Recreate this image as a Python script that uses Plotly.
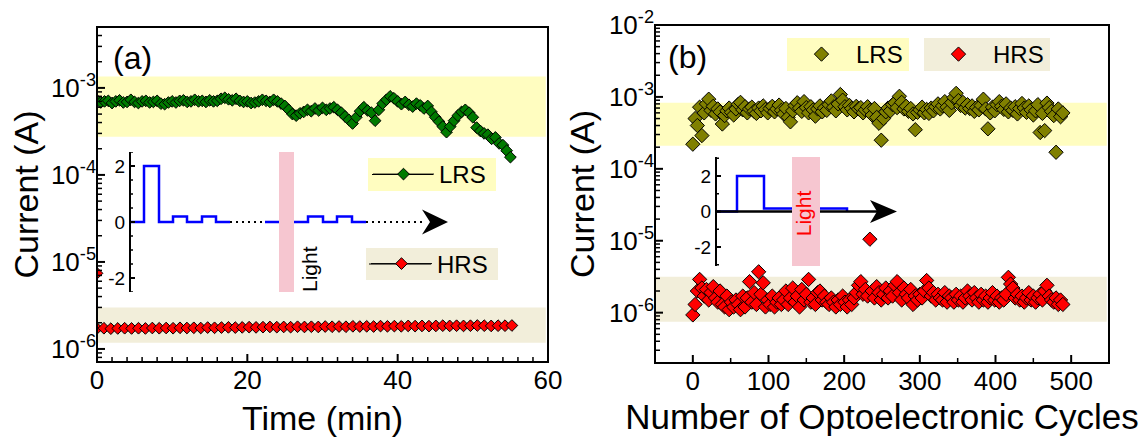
import math
import plotly.graph_objects as go

FONT = "Liberation Sans, Arial, sans-serif"
W, H = 1140, 437

# ---------------- Panel (a): retention vs time ----------------
time_lrs_min = [round(0.5 * i, 1) for i in range(111)]          # 0 ... 55 min
lrs_a_1e4 = [
    7.2, 6.8, 7.0, 7.1, 6.7, 7.0, 7.2, 6.8, 6.9, 7.3,
    6.9, 6.7, 7.0, 7.1, 6.8, 6.9, 7.1, 6.6, 6.5, 6.8,
    7.0, 6.8, 7.1, 7.2, 6.9, 7.0, 7.3, 7.0, 7.1, 6.9,
    7.2, 7.0, 7.1, 7.5, 7.7, 7.4, 7.2, 7.5, 7.1, 6.9,
    7.0, 6.7, 6.8, 7.0, 7.3, 7.1, 6.9, 7.3, 7.0, 6.6,
    6.2, 5.6, 5.0, 4.8, 5.1, 5.3, 5.6, 5.4, 5.8, 5.5,
    5.9, 5.6, 5.8, 6.0, 5.6, 5.2, 4.7, 4.3, 3.9, 4.6,
    5.4, 6.0, 5.5, 5.2, 4.2, 5.6, 6.6, 7.3, 8.0, 7.6,
    7.0, 6.5, 6.9, 6.4, 6.1, 6.6, 6.3, 5.8, 6.2, 5.3,
    4.6, 4.1, 3.6, 3.1, 3.6, 4.2, 4.8, 5.3, 5.6, 5.2,
    4.6, 3.5, 3.2, 3.0, 2.9, 2.6, 2.7, 2.3, 2.2, 1.9,
    1.6,
]
time_hrs_min = [round(0.92 * i, 2) for i in range(61)]          # 0 ... 55.2 min
hrs_a_1e6 = [
    1.72, 1.73, 1.71, 1.72, 1.73, 1.72, 1.73, 1.72, 1.74, 1.73,
    1.74, 1.73, 1.75, 1.74, 1.75, 1.74, 1.76, 1.75, 1.76, 1.77,
    1.76, 1.77, 1.78, 1.77, 1.78, 1.79, 1.78, 1.79, 1.78, 1.80,
    1.79, 1.80, 1.79, 1.81, 1.80, 1.81, 1.80, 1.82, 1.81, 1.82,
    1.81, 1.83, 1.82, 1.83, 1.82, 1.84, 1.83, 1.84, 1.83, 1.84,
    1.85, 1.84, 1.85, 1.84, 1.85, 1.86, 1.85, 1.84, 1.85, 1.85,
    1.86,
]
hrs_a_extra_t = [0.0]
hrs_a_extra_1e6 = [7.4]

band_a_lrs = [2.75e-4, 1.35e-3]
band_a_hrs = [1.18e-6, 3.0e-6]

# ---------------- Panel (b): endurance vs cycles ----------------
cycles_b = list(range(0, 490, 3))                                  # 164 cycles
lrs_b_1e4 = [
    2.2, 5.0, 4.0, 7.2, 2.9, 6.0, 8.0, 9.3, 6.5, 7.4,
    5.8, 6.8, 6.2, 4.2, 5.5, 6.4, 7.0, 6.1, 5.6, 6.8,
    7.9, 8.4, 6.6, 7.3, 6.0, 6.8, 7.2, 6.3, 5.9, 7.0,
    6.4, 7.5, 6.7, 6.0, 6.9, 7.4, 6.2, 6.8, 7.7, 6.5,
    5.8, 6.9, 5.2, 4.5, 6.4, 7.6, 8.3, 7.0, 6.3, 8.6,
    7.1, 6.0, 7.3, 6.6, 5.4, 6.8, 7.5, 6.2, 7.0, 6.5,
    7.8, 8.8, 7.2, 6.4, 8.0, 10.8, 9.0, 7.3, 6.6, 7.6,
    6.9, 6.2, 7.4, 6.8, 7.1, 6.0, 6.6, 7.3, 6.5, 5.6,
    6.9, 5.2, 4.3, 2.5, 5.0, 6.2, 7.0, 6.4, 7.8, 8.3,
    7.1, 10.2, 8.4, 6.8, 7.4, 6.3, 6.9, 5.8, 3.5, 6.1,
    6.6, 7.2, 6.0, 6.7, 5.9, 7.0, 6.4, 7.3, 8.0, 6.8,
    7.5, 8.6, 7.2, 6.5, 8.3, 9.8, 11.2, 8.9, 7.6, 8.4,
    7.0, 7.8, 6.9, 7.5, 6.3, 7.1, 6.6, 7.6, 9.3, 6.8,
    3.6, 6.0, 7.2, 6.4, 7.8, 8.6, 7.4, 6.7, 8.0, 6.2,
    7.0, 6.5, 7.3, 5.8, 6.9, 8.1, 7.0, 6.1, 7.5, 6.6,
    5.6, 6.4, 7.8, 3.2, 5.9, 3.4, 8.2, 7.1, 6.3, 5.5,
    1.7, 6.8, 5.3, 6.0,
]
hrs_b_1e6 = [
    0.93, 1.3, 2.0, 2.9, 2.2, 1.7, 2.1, 1.5, 1.9, 2.3,
    1.6, 1.4, 2.0, 1.3, 1.2, 1.7, 1.1, 1.4, 1.2, 1.5,
    1.3, 1.1, 1.7, 1.2, 1.6, 2.7, 1.4, 1.9, 1.3, 3.7,
    1.8, 2.6, 1.2, 1.5, 1.3, 1.7, 1.2, 1.4, 1.6, 1.3,
    1.5, 2.0, 1.3, 1.6, 2.2, 1.4, 1.7, 1.2, 2.1, 1.5,
    1.8, 2.9, 1.4, 1.6, 1.3, 1.9, 2.0, 1.5, 1.7, 1.4,
    1.3, 1.6, 1.4, 1.2, 1.5, 1.3, 1.7, 1.4, 1.2, 1.5,
    1.3, 1.6, 1.9, 2.4, 2.7, 1.8, 2.1, 1.7, 10.5, 2.0,
    1.6, 2.3, 1.9, 1.5, 1.8, 2.2, 1.6, 2.0, 1.7, 2.4,
    2.7, 1.9, 1.5, 2.2, 1.8, 1.6, 2.1, 1.3, 1.7, 1.5,
    1.8, 1.6, 2.0, 2.8, 2.2, 1.7, 1.9, 1.5, 1.8, 1.6,
    1.5, 1.9, 1.4, 1.7, 1.6, 1.4, 1.8, 1.5, 1.7, 1.4,
    1.6, 2.0, 1.7, 1.5, 1.9, 1.6, 1.4, 1.8, 1.5, 1.7,
    1.4, 1.6, 1.9, 1.5, 1.7, 1.4, 1.6, 1.5, 1.8, 3.1,
    2.5, 2.2, 1.6, 1.8, 1.5, 1.7, 1.4, 1.6, 1.9, 1.5,
    1.7, 1.4, 1.6, 1.8, 1.5, 2.0, 2.4, 1.7, 1.5, 1.4,
    1.6, 1.3, 1.5, 1.3,
]
band_b_lrs = [2.1e-4, 8.3e-4]
band_b_hrs = [7.5e-7, 3.16e-6]

# ---------------- Inset schematics (arbitrary units) ----------------
inset_a_x1 = [0, 1.4, 1.4, 2.9, 2.9, 4.3, 4.3, 5.7, 5.7, 7.2, 7.2, 8.6, 8.6, 10.0]
inset_a_y1 = [0, 0, 2, 2, 0, 0, 0.2, 0.2, 0, 0, 0.2, 0.2, 0, 0]
inset_a_x2 = [13.5, 17.8, 17.8, 19.3, 19.3, 20.7, 20.7, 22.2, 22.2, 23.6]
inset_a_y2 = [0, 0, 0.2, 0.2, 0, 0, 0.2, 0.2, 0, 0]
inset_a_dots1_x = [10.0, 13.5]
inset_a_dots2_x = [23.6, 29.6]
inset_a_light = [14.9, 16.4]
inset_a_arrow = [29.2, 30.0, 31.8]     # back, notch, tip

inset_b_x = [0, 2.1, 2.1, 4.8, 4.8, 13.1, 13.1]
inset_b_y = [0, 0, 2, 2, 0.17, 0.17, 0]
inset_b_axis_x = [0, 16.2]
inset_b_light = [7.6, 10.4]
inset_b_arrow = [15.4, 16.1, 18.1]

inset_ticks = [-2, 0, 2]
inset_ticktext = ["-2", "0", "2"]
inset_a_minor = [-2.5, -1.5, -1, -0.5, 0.5, 1, 1.5, 2.5]
inset_b_minor = [-3, -1, 1, 3]

# ---------------- tick values ----------------
xa_major = [0, 20, 40, 60]
xa_minor = [v for v in range(0, 61, 2) if v % 20]
xb_major = [0, 100, 200, 300, 400, 500]
xb_minor = [v for v in range(-50, 551, 50) if v % 100]
ya_exp = [-6, -5, -4, -3]
yb_exp = [-6, -5, -4, -3, -2]
log_minor = [m * 10.0 ** e for e in range(-8, -1) for m in range(2, 10)]

# ---------------- colours ----------------
C_LRS_BAND = "#FFFDC0"
C_HRS_BAND = "#F2EEDA"
C_GREEN = "#007A00"
C_OLIVE = "#808000"
C_RED = "#FF0000"
C_PINK = "#F6C6D0"
C_BLUE = "#0000FF"

# plot areas (paper fractions)
A_DOM_X = [97 / W, 548 / W]
A_DOM_Y = [1 - 362 / H, 1 - 27 / H]
B_DOM_X = [655 / W, 1109 / W]
B_DOM_Y = [1 - 363 / H, 1 - 25 / H]
IA_DOM_X = [130 / W, 450 / W]
IA_DOM_Y = [1 - 292 / H, 1 - 152 / H]
IB_DOM_X = [716 / W, 906 / W]
IB_DOM_Y = [1 - 266 / H, 1 - 157 / H]
A_RANGE_Y = [-6.15, -2.3]
B_RANGE_Y = [-6.7, -2.0]

MAJ_LEN, MIN_LEN = 8, 5


def px_w(dom):
    return (dom[1] - dom[0]) * W


def px_h(dom):
    return (dom[1] - dom[0]) * H


fig = go.Figure()
mk = dict(symbol="diamond", line=dict(color="black", width=1))

fig.add_trace(go.Scatter(
    x=time_lrs_min, y=[v * 1e-4 for v in lrs_a_1e4], mode="lines+markers", name="LRS",
    line=dict(color="black", width=1), marker=dict(mk, size=9, color=C_GREEN),
    xaxis="x", yaxis="y", legend="legend"))
fig.add_trace(go.Scatter(
    x=time_hrs_min, y=[v * 1e-6 for v in hrs_a_1e6], mode="lines+markers", name="HRS",
    line=dict(color="black", width=1), marker=dict(mk, size=9, color=C_RED),
    xaxis="x", yaxis="y", legend="legend2"))
fig.add_trace(go.Scatter(
    x=hrs_a_extra_t, y=[v * 1e-6 for v in hrs_a_extra_1e6], mode="markers", showlegend=False,
    marker=dict(mk, size=9, color=C_RED), xaxis="x", yaxis="y"))

fig.add_trace(go.Scatter(
    x=cycles_b, y=[v * 1e-4 for v in lrs_b_1e4], mode="markers", name="LRS",
    marker=dict(mk, size=11, color=C_OLIVE), xaxis="x2", yaxis="y2", legend="legend3"))
fig.add_trace(go.Scatter(
    x=cycles_b, y=[v * 1e-6 for v in hrs_b_1e6], mode="markers", name="HRS",
    marker=dict(mk, size=11, color=C_RED), xaxis="x2", yaxis="y2", legend="legend4"))

for xs, ys in [(inset_a_x1, inset_a_y1), (inset_a_x2, inset_a_y2)]:
    fig.add_trace(go.Scatter(x=xs, y=ys, mode="lines", showlegend=False,
                             line=dict(color=C_BLUE, width=2.5), xaxis="x3", yaxis="y3"))
for xs in [inset_a_dots1_x, inset_a_dots2_x]:
    fig.add_trace(go.Scatter(x=xs, y=[0, 0], mode="lines", showlegend=False,
                             line=dict(color="black", width=2, dash="2px,4px"), xaxis="x3", yaxis="y3"))

fig.add_trace(go.Scatter(x=inset_b_x, y=inset_b_y, mode="lines", showlegend=False,
                         line=dict(color=C_BLUE, width=2.5), xaxis="x4", yaxis="y4"))
fig.add_trace(go.Scatter(x=inset_b_axis_x, y=[0, 0], mode="lines", showlegend=False,
                         line=dict(color="black", width=2.5), xaxis="x4", yaxis="y4"))

shapes = []
for (lo, hi), col, ax in [(band_a_lrs, C_LRS_BAND, ""), (band_a_hrs, C_HRS_BAND, ""),
                          (band_b_lrs, C_LRS_BAND, "2"), (band_b_hrs, C_HRS_BAND, "2")]:
    shapes.append(dict(type="rect", xref="x%s domain" % ax, yref="y%s" % ax,
                       x0=0, x1=0.995, y0=lo, y1=hi, fillcolor=col, line=dict(width=0), layer="below"))
for ax in ["", "2"]:
    shapes.append(dict(type="rect", xref="x%s domain" % ax, yref="y%s domain" % ax,
                       x0=0, x1=1, y0=0, y1=1, line=dict(color="black", width=2), layer="above"))


def xticks(ax, vals, length, dom_y, width):
    for v in vals:
        shapes.append(dict(type="line", xref="x%s" % ax, yref="y%s domain" % ax, x0=v, x1=v,
                           y0=0, y1=length / px_h(dom_y), line=dict(color="black", width=width),
                           layer="above"))


def yticks(ax, vals, length, dom_x, width):
    for v in vals:
        shapes.append(dict(type="line", xref="x%s domain" % ax, yref="y%s" % ax, x0=0,
                           x1=length / px_w(dom_x), y0=v, y1=v, line=dict(color="black", width=width),
                           layer="above"))


def in_range(vals, rng):
    return [v for v in vals if rng[0] < math.log10(v) < rng[1]]


xticks("", xa_major, MAJ_LEN, A_DOM_Y, 2)
xticks("", xa_minor, MIN_LEN, A_DOM_Y, 1.5)
yticks("", [10.0 ** e for e in ya_exp], MAJ_LEN, A_DOM_X, 2)
yticks("", in_range(log_minor, A_RANGE_Y), MIN_LEN, A_DOM_X, 1.5)
xticks("2", xb_major, MAJ_LEN, B_DOM_Y, 2)
xticks("2", xb_minor, MIN_LEN, B_DOM_Y, 1.5)
yticks("2", [10.0 ** e for e in yb_exp], MAJ_LEN, B_DOM_X, 2)
yticks("2", in_range(log_minor, B_RANGE_Y), MIN_LEN, B_DOM_X, 1.5)
yticks("3", inset_ticks, 5, IA_DOM_X, 2)
yticks("3", inset_a_minor, 3, IA_DOM_X, 1.5)
yticks("4", inset_ticks, 5, IB_DOM_X, 2)
yticks("4", inset_b_minor, 3, IB_DOM_X, 1.5)

shapes.append(dict(type="rect", xref="x3", yref="y3 domain", x0=inset_a_light[0], x1=inset_a_light[1],
                   y0=0, y1=1, fillcolor=C_PINK, line=dict(width=0), layer="above"))
shapes.append(dict(type="rect", xref="x4", yref="y4 domain", x0=inset_b_light[0], x1=inset_b_light[1],
                   y0=0, y1=1, fillcolor=C_PINK, line=dict(width=0), layer="above"))


def arrow_path(back, notch, tip, h):
    return "M %g,0 L %g,%g L %g,0 L %g,%g Z" % (tip, back, h, notch, back, -h)


shapes.append(dict(type="path", xref="x3", yref="y3", path=arrow_path(*inset_a_arrow, 0.45),
                   fillcolor="black", line=dict(width=0), layer="above"))
shapes.append(dict(type="path", xref="x4", yref="y4", path=arrow_path(*inset_b_arrow, 0.65),
                   fillcolor="black", line=dict(width=0), layer="above"))

legend_boxes = [(368, 496, 158, 191, C_LRS_BAND), (366, 498, 248, 280, C_HRS_BAND),
                (787, 909, 38, 71, C_LRS_BAND), (924, 1050, 38, 71, C_HRS_BAND)]
for x0, x1, y0, y1, col in legend_boxes:
    shapes.append(dict(type="rect", xref="paper", yref="paper", x0=x0 / W, x1=x1 / W,
                       y0=1 - y1 / H, y1=1 - y0 / H, fillcolor=col, line=dict(width=0), layer="above"))
for x0, x1, yc in [(372, 433, 174.5), (369, 431, 264)]:
    shapes.append(dict(type="line", xref="paper", yref="paper", x0=x0 / W, x1=x1 / W,
                       y0=1 - yc / H, y1=1 - yc / H, line=dict(color="black", width=1), layer="above"))

annotations = [
    dict(text="(a)", xref="paper", yref="paper", x=111 / W, y=1 - 58 / H, xanchor="left", yanchor="middle",
         showarrow=False, font=dict(size=32, family=FONT, color="black")),
    dict(text="(b)", xref="paper", yref="paper", x=666 / W, y=1 - 57 / H, xanchor="left", yanchor="middle",
         showarrow=False, font=dict(size=32, family=FONT, color="black")),
    dict(text="Light", xref="x3", yref="y3", x=17.9, y=-1.68, textangle=-90, showarrow=False,
         font=dict(size=21, family=FONT, color="black")),
    dict(text="Light", xref="x4", yref="y4", x=8.7, y=-0.1, textangle=-90, showarrow=False,
         font=dict(size=21, family=FONT, color="red")),
]

axis_common = dict(showline=False, showgrid=False, zeroline=False, ticks="", automargin=False,
                   tickfont=dict(size=26, family=FONT, color="black"))

inset_y_common = dict(showline=True, linewidth=2, linecolor="black", showgrid=False, zeroline=False,
                      tickvals=inset_ticks, ticktext=inset_ticktext, ticks="", anchor="free",
                      tickfont=dict(size=19, family=FONT, color="black"), automargin=False)

fig.update_layout(
    width=W, height=H, margin=dict(l=0, r=0, t=0, b=0, autoexpand=False),
    paper_bgcolor="white", plot_bgcolor="rgba(0,0,0,0)",
    font=dict(family=FONT, color="black"),
    shapes=shapes, annotations=annotations,
    xaxis=dict(axis_common, domain=A_DOM_X, range=[0, 60], tickvals=xa_major,
               title=dict(text="Time (min)", font=dict(size=34, family=FONT), standoff=12), anchor="y"),
    yaxis=dict(axis_common, domain=A_DOM_Y, type="log", range=A_RANGE_Y,
               tickvals=[10.0 ** e for e in ya_exp], ticktext=["10<sup>%d</sup>" % e for e in ya_exp],
               title=dict(text="Current (A)", font=dict(size=34, family=FONT), standoff=2), anchor="x"),
    xaxis2=dict(axis_common, domain=B_DOM_X, range=[-50, 550], tickvals=xb_major,
                title=dict(text="Number of Optoelectronic Cycles", font=dict(size=35, family=FONT),
                           standoff=9),
                anchor="y2"),
    yaxis2=dict(axis_common, domain=B_DOM_Y, type="log", range=B_RANGE_Y,
                tickvals=[10.0 ** e for e in yb_exp], ticktext=["10<sup>%d</sup>" % e for e in yb_exp],
                title=dict(text="Current (A)", font=dict(size=34, family=FONT), standoff=4), anchor="x2"),
    xaxis3=dict(domain=IA_DOM_X, range=[0, 32], visible=False, anchor="y3", fixedrange=True),
    yaxis3=dict(inset_y_common, domain=IA_DOM_Y, range=[-2.5, 2.5], position=IA_DOM_X[0]),
    xaxis4=dict(domain=IB_DOM_X, range=[0, 19], visible=False, anchor="y4", fixedrange=True),
    yaxis4=dict(inset_y_common, domain=IB_DOM_Y, range=[-3.07, 3.07], position=IB_DOM_X[0]),
    legend=dict(x=368 / W, y=1 - 174.5 / H, xanchor="left", yanchor="middle", bgcolor="rgba(0,0,0,0)",
                font=dict(size=24, family=FONT), itemwidth=61, borderwidth=0),
    legend2=dict(x=366 / W, y=1 - 264 / H, xanchor="left", yanchor="middle", bgcolor="rgba(0,0,0,0)",
                 font=dict(size=24, family=FONT), itemwidth=61, borderwidth=0),
    legend3=dict(x=787 / W, y=1 - 54.5 / H, xanchor="left", yanchor="middle", bgcolor="rgba(0,0,0,0)",
                 font=dict(size=24, family=FONT), itemwidth=59, borderwidth=0),
    legend4=dict(x=924 / W, y=1 - 54.5 / H, xanchor="left", yanchor="middle", bgcolor="rgba(0,0,0,0)",
                 font=dict(size=24, family=FONT), itemwidth=59, borderwidth=0),
)

fig.write_html("out.html", config={"displayModeBar": False},
               post_script="document.body.style.margin='0px';")
